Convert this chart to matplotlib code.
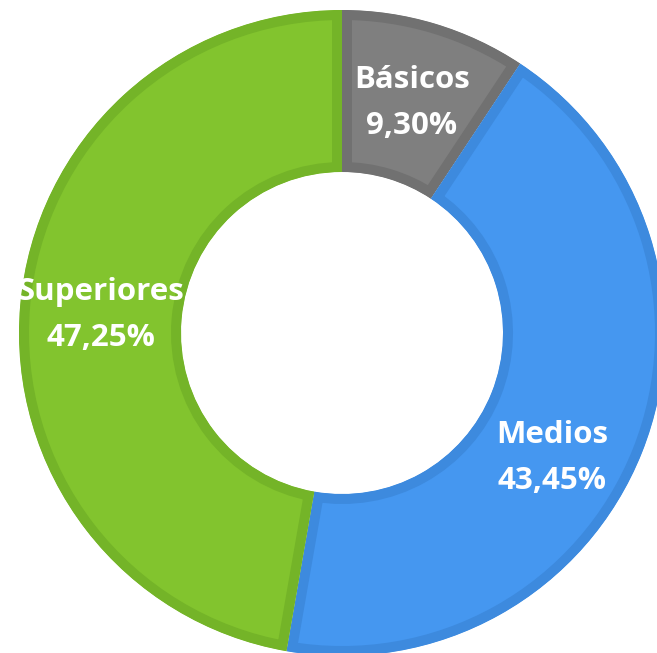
import matplotlib
matplotlib.use("Agg")
import matplotlib.pyplot as plt
from matplotlib.patches import Wedge

categories = ["Básicos", "Medios", "Superiores"]
values = [9.30, 43.45, 47.25]
value_labels = ["9,30%", "43,45%", "47,25%"]
fill_colors = ["#7f7f7f", "#4597f0", "#82c42e"]
edge_colors = ["#717171", "#3d8ade", "#74b428"]

W, H = 657, 653
fig = plt.figure(figsize=(W / 100, H / 100), dpi=100)
ax = fig.add_axes([0, 0, 1, 1])

cx, cy = 342, H - 333
R, r = 323, 161
px = 72 / 100  # points per pixel

wedges, _ = ax.pie(values, colors=fill_colors, startangle=90, counterclock=False,
                   radius=R, center=(cx, cy), frame=True,
                   wedgeprops=dict(width=R - r, linewidth=20 * px))
for w, ec in zip(wedges, edge_colors):
    w.set_edgecolor(ec)
    clip = Wedge(w.center, w.r, w.theta1, w.theta2, width=w.width,
                 transform=ax.transData)
    w.set_clip_on(True)
    w.set_clip_path(clip)
ax.set_xlim(0, W)
ax.set_ylim(0, H)
ax.set_aspect("equal")
ax.axis("off")

label_pos = [(412, 80), (552, 435), (101, 292)]
fs = 22.5
for name, val, (x, y) in zip(categories, value_labels, label_pos):
    ax.text(x, H - y, name, color="white", fontsize=fs, fontweight="bold",
            family="Open Sans", ha="center", va="center")
    ax.text(x, H - y - 46, val, color="white", fontsize=fs, fontweight="bold",
            family="Open Sans", ha="center", va="center")

fig.savefig("out.png", dpi=100)
